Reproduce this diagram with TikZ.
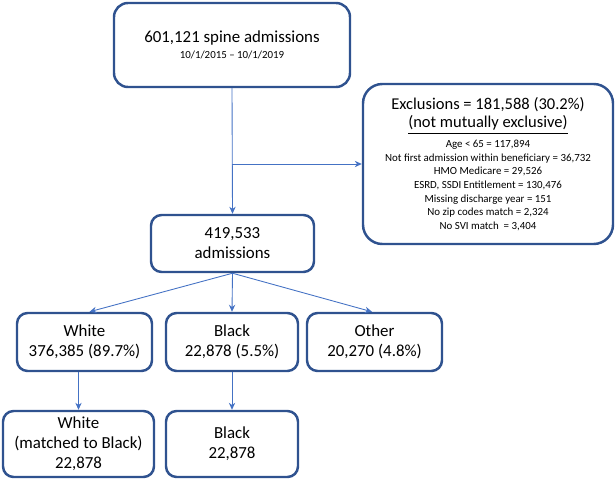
\documentclass[tikz,border=0pt]{standalone}
\usepackage{fontspec}
\setmainfont{Carlito}
\usepackage{xcolor}
\usepackage{tikz}
\usetikzlibrary{positioning, arrows.meta}
\definecolor{boxLine}{HTML}{2F528F}
\definecolor{arrLine}{HTML}{4472C4}
\tikzset{
  flowbox/.style={draw=boxLine, line width=1.4pt, fill=white, rounded corners=6pt,
    inner sep=2pt, align=center, font=\fontsize{9.6}{11.4}\selectfont},
  flowarrow/.style={-{Stealth[length=4pt, width=3.6pt]}, arrLine, line width=0.5pt},
}
\newcommand{\exclsmall}{\fontsize{6.2}{7.7}\selectfont}
\newcommand{\exclbig}{\fontsize{9.4}{11}\selectfont}

\begin{document}
\begin{tikzpicture}
        \useasboundingbox (0,0) rectangle (12.3,9.6);
        \node[flowbox, minimum width=4.72cm, minimum height=1.68cm, rounded corners=8pt] (spine) at (4.64,8.70)
          {601,121 spine admissions\\[-2pt]{\fontsize{6.2}{7.5}\selectfont 10/1/2015 -- 10/1/2019}};
        \node[flowbox, minimum width=5.0cm, minimum height=3.2cm, rounded corners=11pt] (excl) at (9.76,6.32)
          {{\exclbig Exclusions = 181,588 (30.2\%)}\\[-1pt]
           {\exclbig \underline{(not mutually exclusive)}}\\[0pt]
           {\exclsmall Age < 65 = 117,894}\\[-3.7pt]
           {\exclsmall Not first admission within beneficiary = 36,732}\\[-3.7pt]
           {\exclsmall HMO Medicare = 29,526}\\[-3.7pt]
           {\exclsmall ESRD, SSDI Entitlement = 130,476}\\[-3.7pt]
           {\exclsmall Missing discharge year = 151}\\[-3.7pt]
           {\exclsmall No zip codes match = 2,324}\\[-3.7pt]
           {\exclsmall No SVI match \ = 3,404}};
        \node[flowbox, minimum width=3.26cm, minimum height=1.14cm] (adm) at (4.65,4.73) {419,533\\admissions};
        \node[flowbox, minimum width=2.70cm, minimum height=1.16cm] (white) at (1.69,2.76) {White\\376,385 (89.7\%)};
        \node[flowbox, minimum width=2.64cm, minimum height=1.16cm] (black) at (4.64,2.76) {Black\\22,878 (5.5\%)};
        \node[flowbox, minimum width=2.70cm, minimum height=1.16cm] (other) at (7.49,2.76) {Other\\20,270 (4.8\%)};
        \node[flowbox, minimum width=3.02cm, minimum height=1.32cm] (wmatch) at (1.57,0.72)
          {White\\(matched to Black)\\22,878};
        \node[flowbox, minimum width=2.64cm, minimum height=1.32cm] (bmatch) at (4.64,0.72) {Black\\22,878};
        % connectors
        \draw[flowarrow] (spine.south) -- (adm.north);
        \draw[flowarrow] (spine.south |- excl.west) -- (excl.west);
        \draw[flowarrow] (adm.south) -- ([xshift=0.1cm]white.north);
        \draw[flowarrow] (adm.south) -- (black.north);
        \draw[flowarrow] (adm.south) -- ([xshift=-0.05cm]other.north);
        \draw[flowarrow] (wmatch.north |- white.south) -- (wmatch.north);
        \draw[flowarrow] (black.south) -- (bmatch.north);
      \end{tikzpicture}
\end{document}
